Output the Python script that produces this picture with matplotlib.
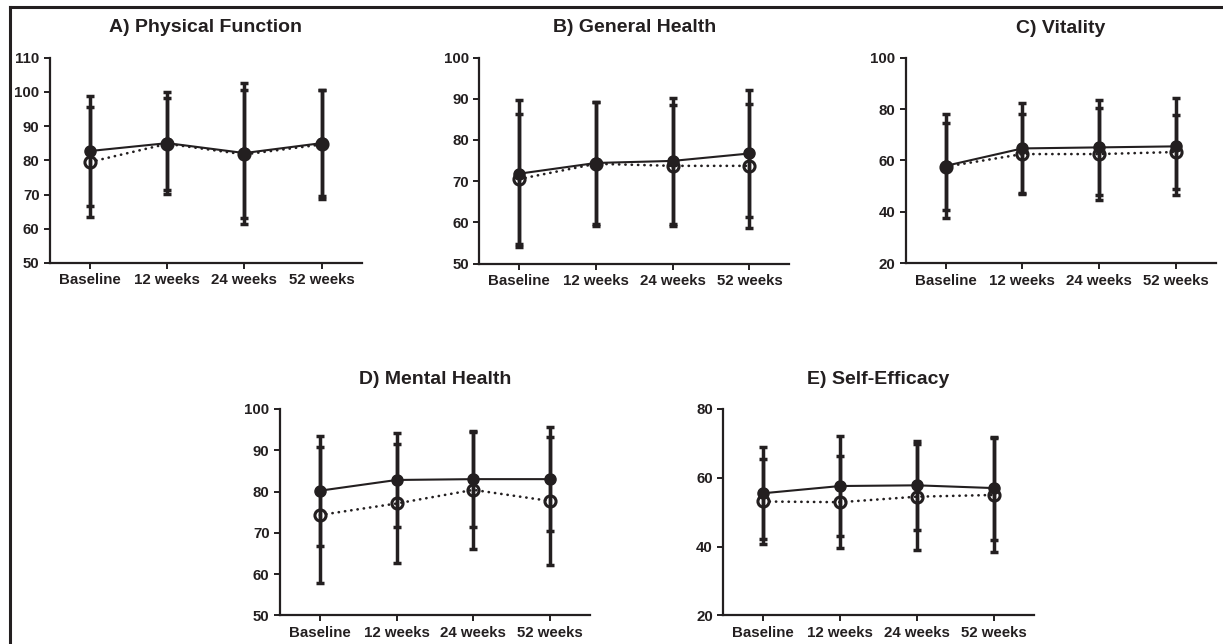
import matplotlib
matplotlib.use("Agg")
import matplotlib.pyplot as plt
from matplotlib.lines import Line2D
import numpy as np

plt.rcParams['font.family'] = ['Liberation Sans', 'DejaVu Sans']

categories = ["Baseline", "12 weeks", "24 weeks", "52 weeks"]

titles = ["A) Physical Function", "B) General Health", "C) Vitality",
          "D) Mental Health", "E) Self-Efficacy"]

# filled-circle series (solid line): means and SD
pf_filled = [82.7, 85.0, 82.1, 85.0]
pf_filled_sd = [16.1, 14.9, 20.6, 15.4]
pf_open = [79.5, 84.8, 81.7, 84.6]
pf_open_sd = [16.0, 13.5, 18.7, 15.9]

gh_filled = [71.8, 74.4, 74.9, 76.7]
gh_filled_sd = [17.8, 14.9, 15.2, 15.4]
gh_open = [70.5, 74.2, 73.7, 73.7]
gh_open_sd = [15.8, 15.0, 14.7, 15.1]

vt_filled = [57.9, 64.7, 65.1, 65.5]
vt_filled_sd = [20.2, 17.5, 18.5, 19.0]
vt_open = [57.6, 62.5, 62.5, 63.3]
vt_open_sd = [17.0, 15.4, 18.0, 14.5]

mh_filled = [80.2, 82.8, 83.0, 83.0]
mh_filled_sd = [13.3, 11.3, 11.5, 12.6]
mh_open = [74.3, 77.1, 80.4, 77.7]
mh_open_sd = [16.4, 14.5, 14.3, 15.4]

se_filled = [55.5, 57.6, 57.8, 57.0]
se_filled_sd = [13.4, 14.5, 13.0, 15.0]
se_open = [53.1, 52.9, 54.5, 55.0]
se_open_sd = [12.4, 13.4, 15.4, 16.5]

y_ranges = [(50, 110, 10), (50, 100, 10), (20, 100, 20), (50, 100, 10), (20, 80, 20)]

panels = [
    (pf_filled, pf_filled_sd, pf_open, pf_open_sd),
    (gh_filled, gh_filled_sd, gh_open, gh_open_sd),
    (vt_filled, vt_filled_sd, vt_open, vt_open_sd),
    (mh_filled, mh_filled_sd, mh_open, mh_open_sd),
    (se_filled, se_filled_sd, se_open, se_open_sd),
]

W, H = 1223, 644
# axes boxes in pixels: left, right, top, bottom
boxes = [
    (50, 361.7, 57.5, 263.0),
    (479.3, 789.3, 57.5, 263.5),
    (905.7, 1215.7, 57.7, 263.3),
    (280, 590, 409, 615.3),
    (723.3, 1034, 409, 615.3),
]

ink = "#231f20"
fig = plt.figure(figsize=(W / 100, H / 100), dpi=100)

for i, (box, panel, yr, title) in enumerate(zip(boxes, panels, y_ranges, titles)):
    l, r, t, b = box
    ax = fig.add_axes([l / W, 1 - b / H, (r - l) / W, (b - t) / H])
    f, fsd, o, osd = panel
    x = np.arange(len(categories))
    ax.errorbar(x, o, yerr=osd, fmt='none', ecolor=ink, elinewidth=2.5,
                capsize=3.2, capthick=2.5, zorder=2)
    ax.errorbar(x, f, yerr=fsd, fmt='none', ecolor=ink, elinewidth=2.5,
                capsize=3.2, capthick=2.5, zorder=2)
    ax.plot(x, o, color=ink, lw=1.9, linestyle=(0, (0.1, 2.3)),
            dash_capstyle='round', zorder=3)
    ax.plot(x, f, color=ink, lw=1.5, zorder=3)
    ax.plot(x, o, linestyle='none', marker='o', ms=8, mfc='none', mec=ink,
            mew=2.2, zorder=4)
    ax.plot(x, f, linestyle='none', marker='o', ms=8, mfc=ink, mec=ink,
            zorder=5)
    lo, hi, step = yr
    ax.set_ylim(lo, hi)
    ax.set_yticks(np.arange(lo, hi + 0.1, step))
    ax.set_xlim(-0.52, 3.52)
    ax.set_xticks(x)
    ax.set_xticklabels(categories)
    for s in ['top', 'right']:
        ax.spines[s].set_visible(False)
    for s in ['left', 'bottom']:
        ax.spines[s].set_linewidth(1.6)
        ax.spines[s].set_color(ink)
    ax.tick_params(axis='both', direction='out', length=4.5, width=1.4,
                   color=ink, labelcolor=ink, labelsize=10.8, pad=3)
    for lab in ax.get_xticklabels() + ax.get_yticklabels():
        lab.set_fontweight('bold')
    ax.set_title(title, fontsize=14, fontweight='bold', color=ink, pad=18)

# figure border (left and top lines)
fig.add_artist(Line2D([10.5 / W, 10.5 / W], [0, 1 - 7 / H], transform=fig.transFigure,
                      color=ink, lw=2.2, solid_capstyle='projecting'))
fig.add_artist(Line2D([10.5 / W, 1], [1 - 7 / H, 1 - 7 / H], transform=fig.transFigure,
                      color=ink, lw=2.2, solid_capstyle='projecting'))

fig.savefig("out.png", dpi=100, facecolor="white")
